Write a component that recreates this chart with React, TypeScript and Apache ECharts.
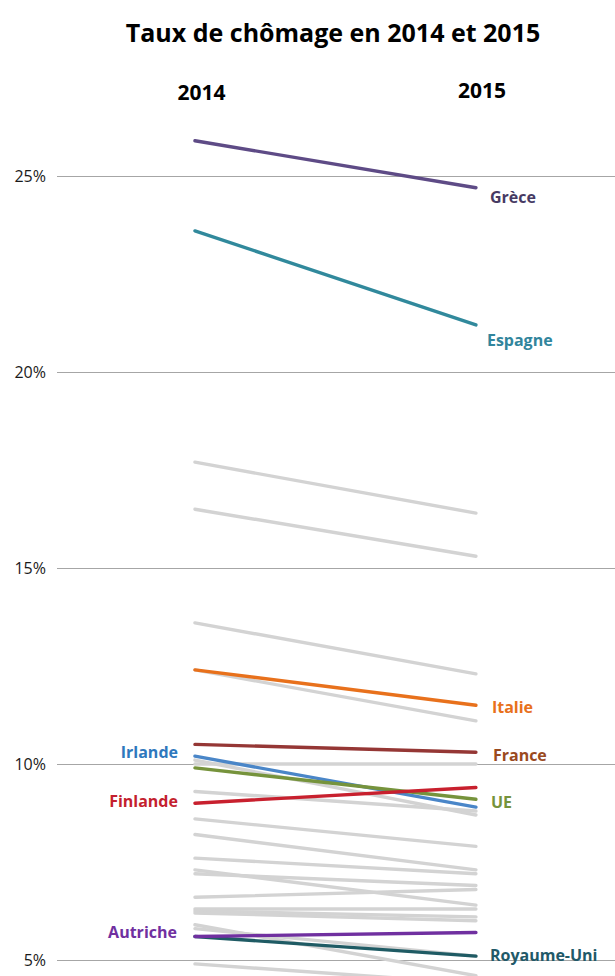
import React, { useEffect, useRef } from 'react';
import * as echarts from 'echarts';

// Years on the horizontal axis
const years = [2014, 2015];

// Highlighted countries (unemployment rate, %)
const countries = ['Grèce', 'Espagne', 'Italie', 'France', 'Irlande', 'UE', 'Finlande', 'Royaume-Uni', 'Autriche'];
const rate2014 = [25.9, 23.6, 12.4, 10.5, 10.2, 9.9, 9.0, 5.6, 5.6];
const rate2015 = [24.7, 21.2, 11.5, 10.3, 8.9, 9.1, 9.4, 5.1, 5.7];

// Other EU countries, drawn in grey
const otherRate2014 = [17.7, 16.5, 13.6, 12.4, 10.1, 10.0, 9.3, 8.6, 8.2, 7.6, 7.3, 7.2, 6.6, 6.3, 6.25, 6.2, 5.9, 5.8, 4.9];
const otherRate2015 = [16.4, 15.3, 12.3, 11.1, 8.7, 10.0, 8.8, 7.9, 7.3, 7.2, 6.4, 6.9, 6.8, 6.3, 6.1, 6.0, 4.6, 5.1, 4.4];

// Tick values that get a label on the vertical axis
const labelledTicks = [5, 10, 15, 20, 25];

// Styling of the highlighted lines and their name labels
const lineColors = ['#5e4b86', '#31899c', '#e8711c', '#953735', '#4a86c8', '#76933c', '#c8202e', '#1f5b64', '#7030a0'];
const labelColors = ['#463a63', '#31859c', '#e8711c', '#9a4a1e', '#2e78bd', '#76933c', '#c41f2e', '#215968', '#7030a0'];
const labelAtStart = [false, false, false, false, true, false, true, false, true];
const labelShift: number[][] = [[0, 9], [-3, 15], [2, 2], [3, 3], [-3, -4], [1, 3], [-3, -2], [0, -1], [-4, -4]];

const FONT = "'Open Sans', 'Noto Sans', sans-serif";
const SHIFT = 60; // chart canvas starts above the viewport so the 30% line sits off-screen

export default function App() {
  const ref = useRef<HTMLDivElement>(null);

  useEffect(() => {
    if (!ref.current) return;
    const chart = echarts.init(ref.current, undefined, { renderer: 'svg' });

    const greySeries = otherRate2014.map((v, i) => ({
      type: 'line',
      name: 'autre-' + i,
      data: [[years[0], v], [years[1], otherRate2015[i]]],
      symbol: 'none',
      lineStyle: { color: '#d3d3d3', width: 3.4, cap: 'round' },
      silent: true,
      z: 2,
    }));

    const mainSeries = countries.map((name, i) => {
      const label = {
        show: true,
        formatter: name,
        position: labelAtStart[i] ? 'left' : 'right',
        distance: 14,
        offset: labelShift[i],
        color: labelColors[i],
        fontFamily: FONT,
        fontSize: 16,
        fontWeight: 'bold',
      };
      const none = { show: false };
      return {
        type: 'line',
        name,
        data: [
          { value: [years[0], rate2014[i]], label: labelAtStart[i] ? label : none },
          { value: [years[1], rate2015[i]], label: labelAtStart[i] ? none : label },
        ],
        symbol: 'circle',
        symbolSize: 0,
        showSymbol: true,
        itemStyle: { color: lineColors[i] },
        lineStyle: { color: lineColors[i], width: 3.4, cap: 'round' },
        silent: true,
        z: 3,
      };
    });

    const headerStyle = {
      fontFamily: FONT,
      fontSize: 21,
      fontWeight: 'bold',
      fill: '#000000',
      textAlign: 'center',
      textVerticalAlign: 'middle',
    };

    chart.setOption({
      animation: false,
      backgroundColor: '#ffffff',
      grid: { left: 57, right: 0, top: 40, bottom: 24 },
      xAxis: {
        type: 'value',
        min: 2013.509,
        max: 2015.495,
        show: false,
      },
      yAxis: {
        type: 'value',
        min: 0,
        max: 30,
        interval: 5,
        axisLine: { show: false },
        axisTick: { show: false },
        axisLabel: {
          formatter: (v: number) => (labelledTicks.includes(v) ? v + '%' : ''),
          color: '#1a1a1a',
          fontFamily: FONT,
          fontSize: 16,
          margin: 11,
        },
        splitLine: { lineStyle: { color: '#a6a6a6', width: 1 } },
      },
      graphic: [
        {
          type: 'text',
          x: 333,
          y: 32 + SHIFT,
          style: {
            text: 'Taux de chômage en 2014 et 2015',
            fontFamily: FONT,
            fontSize: 25,
            fontWeight: 'bold',
            fill: '#000000',
            textAlign: 'center',
            textVerticalAlign: 'middle',
          },
        },
        { type: 'text', x: 201.5, y: 91.5 + SHIFT, style: { ...headerStyle, text: String(years[0]) } },
        { type: 'text', x: 482, y: 89.5 + SHIFT, style: { ...headerStyle, text: String(years[1]) } },
      ],
      series: [...greySeries, ...mainSeries],
    });

    return () => chart.dispose();
  }, []);

  return (
    <div style={{ position: 'fixed', top: 0, left: 0, width: 615, height: 976, overflow: 'hidden', background: '#fff' }}>
      <div ref={ref} style={{ position: 'absolute', top: -SHIFT, left: 0, width: 615, height: 1240 }} />
    </div>
  );
}
